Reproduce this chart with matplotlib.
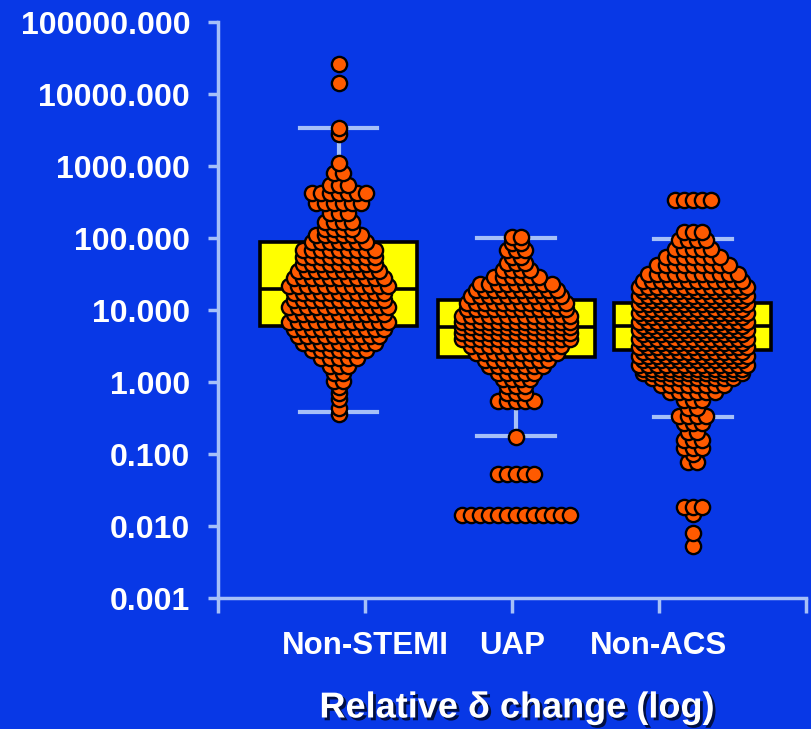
import matplotlib.pyplot as plt
import matplotlib.patheffects as pe
from matplotlib.ticker import FixedLocator, FuncFormatter, NullLocator
import numpy as np

plt.rcParams['font.family'] = ['Liberation Sans', 'DejaVu Sans']

groups = ['Non-STEMI', 'UAP', 'Non-ACS']

# dots, row by row: log10(relative delta change) and number of dots in the row
nstemi_log = [4.41, 4.15, 3.53, 3.45, 3.04, 2.90, 2.74, 2.62, 2.48, 2.35, 2.22, 2.12,
              2.04, 1.94, 1.83, 1.74, 1.64, 1.54, 1.44, 1.34, 1.24, 1.14, 1.04, 0.94,
              0.84, 0.74, 0.64, 0.54, 0.44, 0.34, 0.22, 0.12, 0.02, -0.07, -0.15,
              -0.24, -0.36, -0.45]
nstemi_n = [1, 1, 1, 1, 1, 2, 3, 7, 6, 3, 4, 4,
            6, 7, 9, 9, 9, 10, 11, 12, 11, 11, 12, 11,
            12, 11, 10, 9, 7, 5, 3, 2, 2, 1, 1,
            1, 1, 1]

uap_log = [2.02, 1.93, 1.84, 1.74, 1.65, 1.56, 1.46, 1.36, 1.28, 1.19, 1.10, 1.01,
           0.92, 0.84, 0.76, 0.68, 0.60, 0.50, 0.40, 0.31, 0.22, 0.13, 0.04, -0.06,
           -0.15, -0.27, -0.77, -1.28, -1.85]
uap_n = [2, 2, 3, 2, 3, 4, 6, 9, 10, 11, 12, 12,
         13, 13, 13, 13, 13, 11, 10, 8, 7, 5, 4, 3,
         3, 5, 1, 5, 13]

nonacs_log = [2.53, 2.08, 1.97, 1.85, 1.73, 1.62, 1.50, 1.40, 1.32, 1.26, 1.20, 1.14,
              1.08, 1.02, 0.96, 0.90, 0.84, 0.78, 0.72, 0.66, 0.60, 0.54, 0.48, 0.42,
              0.36, 0.30, 0.24, 0.18, 0.12, 0.05, -0.04, -0.14, -0.25, -0.36, -0.47,
              -0.57, -0.69, -0.80, -0.92, -1.00, -1.11, -1.73, -1.83, -2.10, -2.28]
nonacs_n = [5, 3, 4, 5, 7, 9, 11, 12, 13, 12, 13, 12,
            13, 12, 13, 12, 13, 12, 13, 12, 13, 12, 13, 12,
            13, 12, 13, 12, 12, 10, 8, 6, 3, 2, 4,
            3, 2, 3, 3, 1, 2, 3, 1, 1, 1]

# box stats: lower cap, q1, median, q3, upper cap
nstemi_box = [0.38, 6.0, 19.6, 88, 3370]
uap_box = [0.18, 2.2, 5.8, 13.8, 100]
nonacs_box = [0.33, 2.8, 6.0, 12.5, 97]

bg = '#0838E6'
axcol = '#A6C0F8'
pos = [0.82, 2.03, 3.23]
dx = 9 / 147

fig = plt.figure(figsize=(8.12, 7.29), dpi=100, facecolor=bg)
ax = fig.add_axes([218 / 812, 131 / 729, 588 / 812, 576 / 729], facecolor=bg)

stats = []
for b in [nstemi_box, uap_box, nonacs_box]:
    stats.append(dict(whislo=b[0], q1=b[1], med=b[2], q3=b[3], whishi=b[4], fliers=[]))
ax.bxp(stats, positions=pos, widths=1.07, capwidths=0.53, patch_artist=True,
       showfliers=False,
       boxprops=dict(facecolor='#FFFF00', edgecolor='black', linewidth=2.6),
       medianprops=dict(color='black', linewidth=2.6),
       whiskerprops=dict(color=axcol, linewidth=3),
       capprops=dict(color=axcol, linewidth=3))

for p, lv, nn in zip(pos, [nstemi_log, uap_log, nonacs_log], [nstemi_n, uap_n, nonacs_n]):
    xs, ys = [], []
    for l, n in sorted(zip(lv, nn)):
        off = (np.arange(n) - (n - 1) / 2) * dx
        xs.extend(p + off)
        ys.extend([10 ** l] * n)
    ax.scatter(xs, ys, s=120, color='#FF5A00', edgecolor='black', linewidth=1.7, zorder=3)

ax.set_yscale('log')
ax.set_ylim(1e-3, 1e5)
ax.set_xlim(0, 4)
ax.yaxis.set_major_locator(FixedLocator([10.0 ** k for k in range(-3, 6)]))
ax.yaxis.set_major_formatter(FuncFormatter(lambda v, _: f'{v:.3f}'))
ax.yaxis.set_minor_locator(NullLocator())
ax.set_xticks([0, 1, 2, 3, 4])
ax.set_xticklabels(['', 'Non-STEMI', 'UAP', 'Non-ACS', ''])

for s in ['top', 'right']:
    ax.spines[s].set_visible(False)
for s in ['left', 'bottom']:
    ax.spines[s].set_color(axcol)
    ax.spines[s].set_linewidth(2.5)
ax.tick_params(axis='y', length=7, width=2.5, color=axcol, pad=13, labelsize=23,
               labelcolor='white')
ax.tick_params(axis='x', length=11, width=2.5, color=axcol, pad=13, labelsize=22.5,
               labelcolor='white')
for t in ax.get_xticklabels() + ax.get_yticklabels():
    t.set_fontweight('bold')

fig.text(517 / 812, 1 - 708 / 729, 'Relative δ change (log)', ha='center', va='center',
         fontsize=26, fontweight='bold', color='white',
         path_effects=[pe.withSimplePatchShadow(offset=(2, -2), shadow_rgbFace='black',
                                                alpha=0.7)])

fig.savefig('out.png', dpi=100, facecolor=bg)
